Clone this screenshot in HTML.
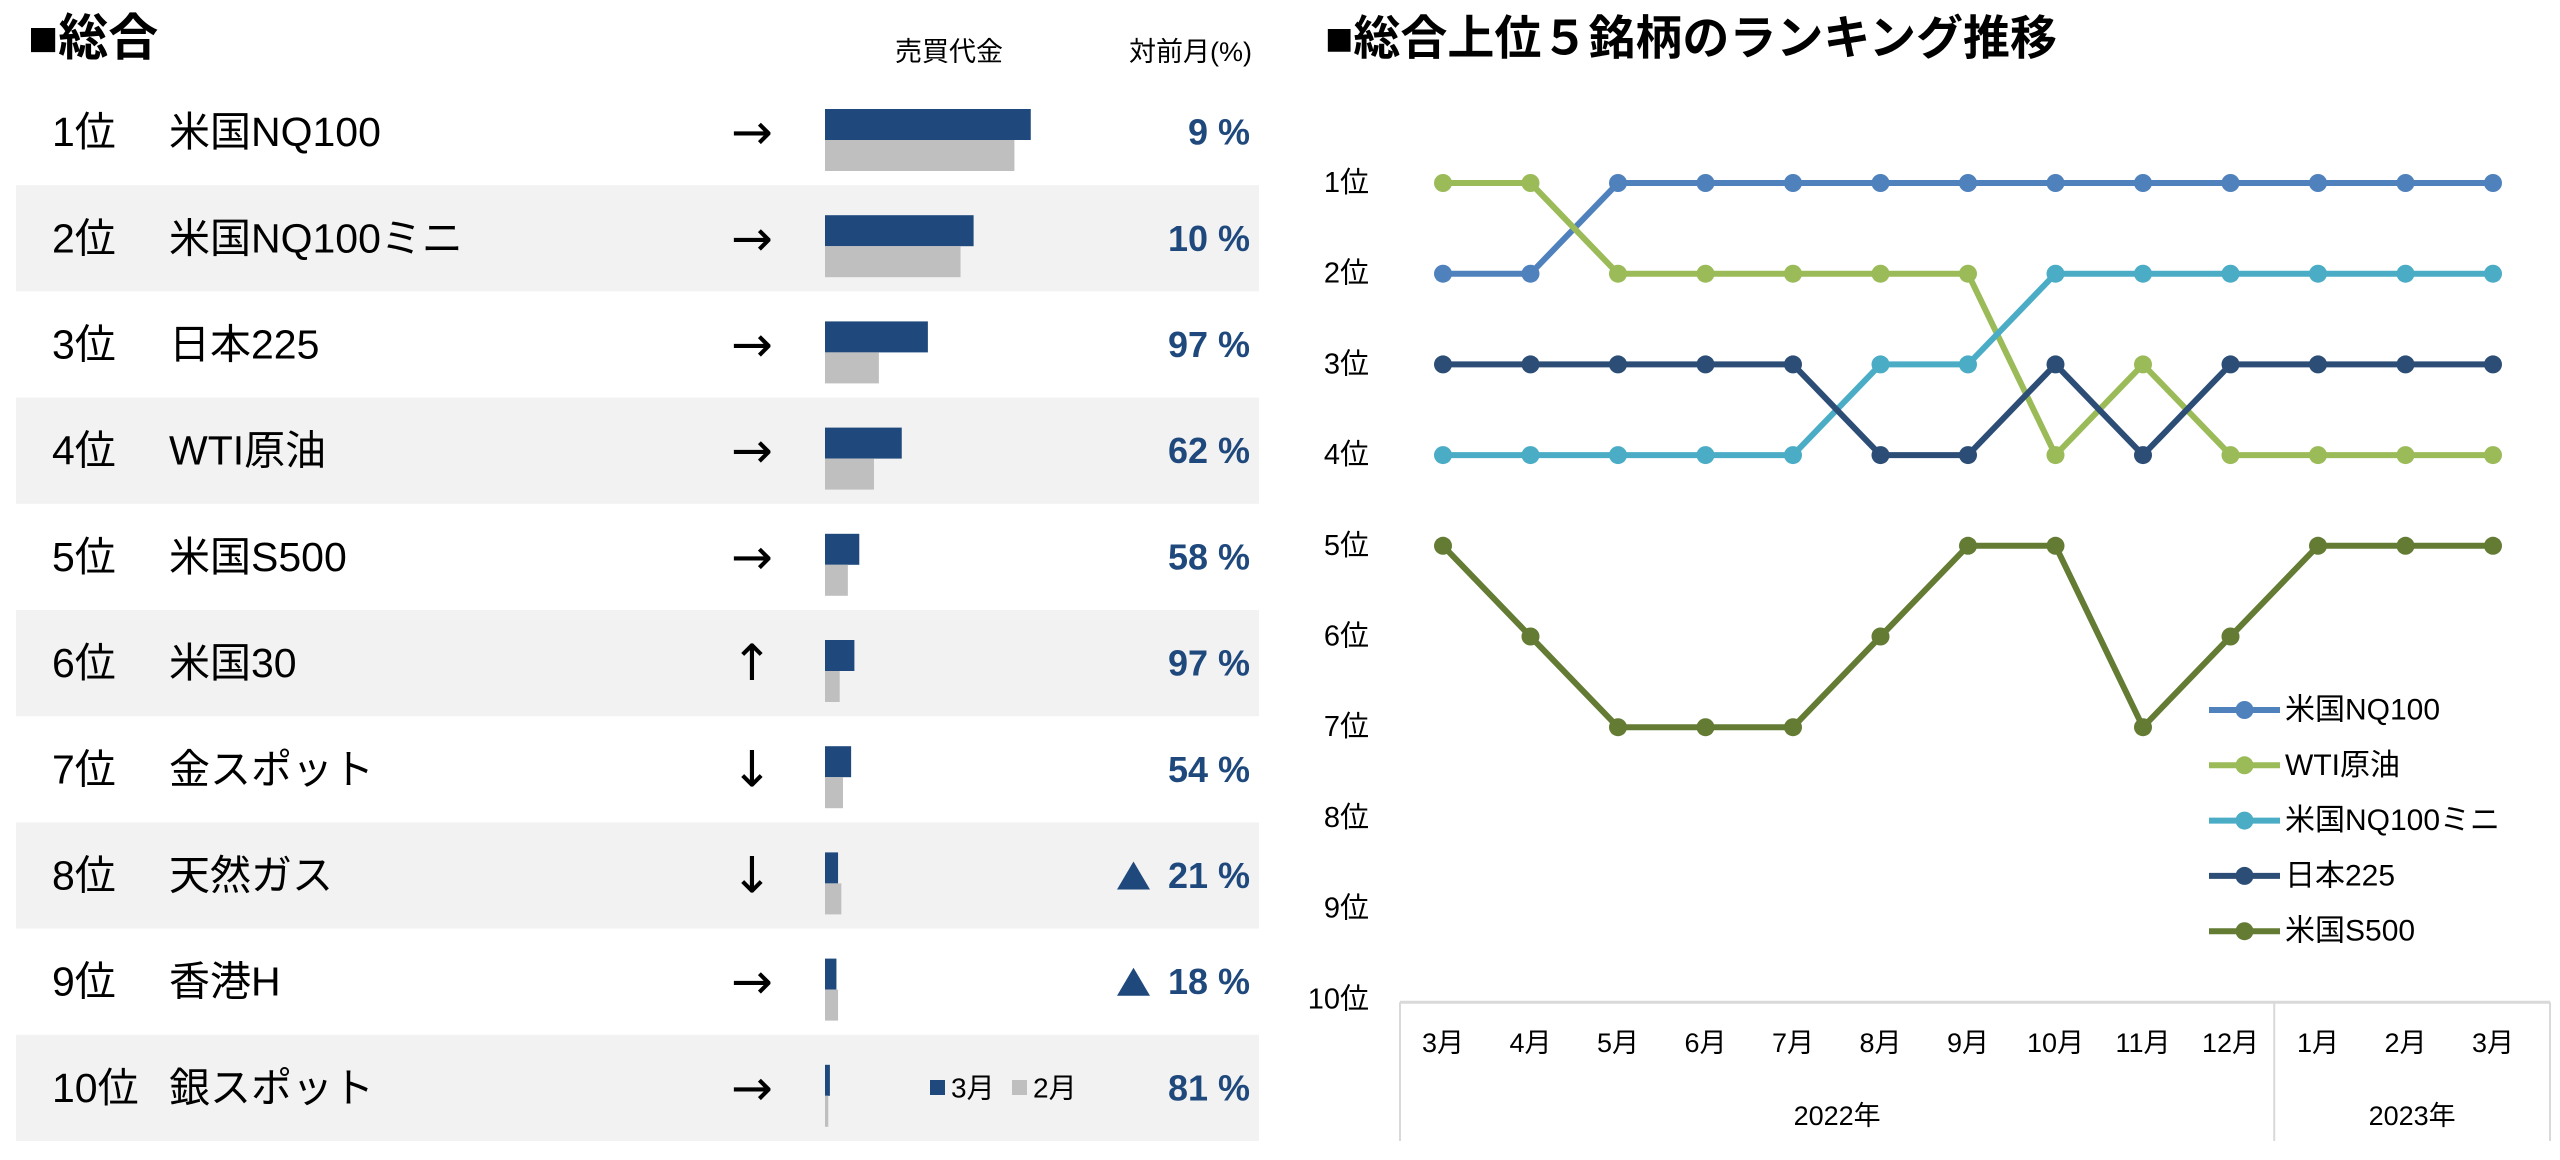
<!DOCTYPE html>
<html><head><meta charset="utf-8">
<style>
html,body{margin:0;padding:0;background:#fff;}
svg{display:block;font-family:"Liberation Sans","Noto Sans CJK JP",sans-serif;}
</style></head>
<body>
<svg id="page" width="2560" height="1160" viewBox="0 0 2560 1160" xmlns="http://www.w3.org/2000/svg">
  <g id="left">
    <text x="28" y="38" dominant-baseline="central" font-size="50" font-weight="bold" fill="#000">■総合</text>
    <text x="895" y="52" dominant-baseline="central" font-size="27" fill="#000">売買代金</text>
    <text x="1252" y="52" dominant-baseline="central" text-anchor="end" font-size="27" fill="#000">対前月(%)</text>
  </g>
  <g id="chart">
    <text x="1325" y="38" dominant-baseline="central" font-size="47" font-weight="bold" fill="#000">■総合上位５銘柄のランキング推移</text>
  </g>
</svg>
<script>
// ---- table data ----
const ranks = ['1位','2位','3位','4位','5位','6位','7位','8位','9位','10位'];
const names = ['米国NQ100','米国NQ100ミニ','日本225','WTI原油','米国S500','米国30','金スポット','天然ガス','香港H','銀スポット'];
const trends = ['→','→','→','→','→','↑','↓','↓','→','→'];
const turnoverMar = [126, 91, 63, 47, 21, 18, 16, 8, 7, 3];
const turnoverFeb = [116, 83, 33, 30, 14, 9, 11, 10, 8, 2];
const momValues = ['9','10','97','62','58','97','54','21','18','81'];
const momNegative = [false,false,false,false,false,false,false,true,true,false];

// ---- chart data ----
const months = ['3月','4月','5月','6月','7月','8月','9月','10月','11月','12月','1月','2月','3月'];
const years = ['2022年','2023年'];
const yearSpans = [10, 3];
const rankTicks = ['1位','2位','3位','4位','5位','6位','7位','8位','9位','10位'];
const seriesNames = ['米国NQ100','WTI原油','米国NQ100ミニ','日本225','米国S500'];
const nq100 = [2,2,1,1,1,1,1,1,1,1,1,1,1];
const wti = [1,1,2,2,2,2,2,4,3,4,4,4,4];
const nqMini = [4,4,4,4,4,3,3,2,2,2,2,2,2];
const nikkei = [3,3,3,3,3,4,4,3,4,3,3,3,3];
const sp500 = [5,6,7,7,7,6,5,5,7,6,5,5,5];
const seriesColors = ['#4f81bd','#9bbb59','#4bacc6','#2c4d75','#647b34'];

const NS = 'http://www.w3.org/2000/svg';
function mk(tag, attrs, parent, txt){
  const e = document.createElementNS(NS, tag);
  for (const k in attrs) e.setAttribute(k, attrs[k]);
  if (txt !== undefined) e.textContent = txt;
  parent.appendChild(e);
  return e;
}
const left = document.getElementById('left');
const chart = document.getElementById('chart');

// ---- table ----
const rowTop0 = 79, rowH = 106.2, barX = 825, barScale = 1.633;
for (let i = 0; i < ranks.length; i++) {
  const top = rowTop0 + i * rowH, cy = top + rowH / 2;
  const g = mk('g', {}, left);
  
  
  if (i % 2 === 1) {
    const bg = mk('rect', {x:16, y:top, width:1243, height:rowH, fill:'#f2f2f2'}, g);
    
    
  }
  const r = mk('text', {x:52, y:cy, 'dominant-baseline':'central', 'font-size':41, fill:'#000'}, g, ranks[i]);
  
  
  const n = mk('text', {x:169, y:cy, 'dominant-baseline':'central', 'font-size':41, fill:'#000'}, g, names[i]);
  
  
  const t = mk('text', {x:752, y:cy, 'dominant-baseline':'central', 'text-anchor':'middle', 'font-size':50, 'font-family':'"DejaVu Sans", sans-serif', fill:'#000'}, g, trends[i]);
  
  
  const b1 = mk('rect', {x:barX, y:top + 30, width:turnoverMar[i] * barScale, height:31, fill:'#1f497d'}, g);
  
  
  const b2 = mk('rect', {x:barX, y:top + 61, width:turnoverFeb[i] * barScale, height:31, fill:'#bfbfbf'}, g);
  
  
  const p = mk('text', {x:1250, y:cy, 'dominant-baseline':'central', 'text-anchor':'end', 'font-size':36, 'font-weight':'bold', fill:'#1f497d'}, g, momValues[i] + '  %');
  
  
  p.setAttribute('xml:space', 'preserve');
  if (momNegative[i]) {
    const tr = mk('polygon', {points:`1117,${cy+14} 1150,${cy+14} 1133.5,${cy-14}`, fill:'#1f497d'}, g);
    
    
  }
}
// bar legend
const lg = mk('g', {}, left);


const lcy = 1088;
const ls1 = mk('rect', {x:930, y:lcy-8, width:15, height:15, fill:'#1f497d'}, lg);


const lt1 = mk('text', {x:951, y:lcy, 'dominant-baseline':'central', 'font-size':28, fill:'#000'}, lg, '3月');


const ls2 = mk('rect', {x:1012, y:lcy-8, width:15, height:15, fill:'#bfbfbf'}, lg);


const lt2 = mk('text', {x:1033, y:lcy, 'dominant-baseline':'central', 'font-size':28, fill:'#000'}, lg, '2月');



// ---- chart ----
const x0 = 1443, dx = 87.5, y0 = 183, dy = 90.7;
const xScale = i => x0 + i * dx;
const yScale = r => y0 + (r - 1) * dy;

rankTicks.forEach((lab, i) => {
  const t = mk('text', {x:1369, y:yScale(i + 1), 'dominant-baseline':'central', 'text-anchor':'end', 'font-size':29, fill:'#000'}, chart, lab);
  
  
});
// axis box
const axisY = yScale(10) + 3, boxL = 1400, boxR = 2550, boxB = 1141;
const ax = mk('line', {x1:boxL, y1:axisY, x2:boxR, y2:axisY, stroke:'#d9d9d9', 'stroke-width':3}, chart);


const bl = mk('line', {x1:boxL, y1:axisY, x2:boxL, y2:boxB, stroke:'#d9d9d9', 'stroke-width':2}, chart);


const br = mk('line', {x1:boxR, y1:axisY, x2:boxR, y2:boxB, stroke:'#d9d9d9', 'stroke-width':2}, chart);


months.forEach((m, i) => {
  const t = mk('text', {x:xScale(i), y:1043, 'dominant-baseline':'central', 'text-anchor':'middle', 'font-size':27, fill:'#000'}, chart, m);
  
  
});
let start = 0;
years.forEach((yr, k) => {
  const end = start + yearSpans[k];
  const xa = k === 0 ? boxL : xScale(start) - dx / 2;
  const xb = k === years.length - 1 ? boxR : xScale(end) - dx / 2;
  const t = mk('text', {x:(xa + xb) / 2, y:1116, 'dominant-baseline':'central', 'text-anchor':'middle', 'font-size':27, fill:'#000'}, chart, yr);
  
  
  if (k < years.length - 1) {
    const d = mk('line', {x1:xb, y1:axisY, x2:xb, y2:boxB, stroke:'#d9d9d9', 'stroke-width':2}, chart);
    
    
  }
  start = end;
});
// series
const allSeries = [nq100, wti, nqMini, nikkei, sp500];
const slugs = ['nq100','wti','nq100-mini','nikkei225','sp500'];
allSeries.forEach((vals, s) => {
  const g = mk('g', {}, chart);
  
  
  const pts = vals.map((v, i) => xScale(i) + ',' + yScale(v)).join(' ');
  const pl = mk('polyline', {points:pts, fill:'none', stroke:seriesColors[s], 'stroke-width':6, 'stroke-linejoin':'round'}, g);
  
  
  vals.forEach((v, i) => {
    const c = mk('circle', {cx:xScale(i), cy:yScale(v), r:9, fill:seriesColors[s]}, g);
    
    
  });
});
// legend
seriesNames.forEach((nm, s) => {
  const cy = 710 + s * 55.3;
  const g = mk('g', {}, chart);
  
  
  const l = mk('line', {x1:2209, y1:cy, x2:2280, y2:cy, stroke:seriesColors[s], 'stroke-width':6}, g);
  
  
  const c = mk('circle', {cx:2244.5, cy:cy, r:9, fill:seriesColors[s]}, g);
  
  
  const t = mk('text', {x:2285, y:cy, 'dominant-baseline':'central', 'font-size':30, fill:'#000'}, g, nm);
  
  
});
</script>
</body></html>
